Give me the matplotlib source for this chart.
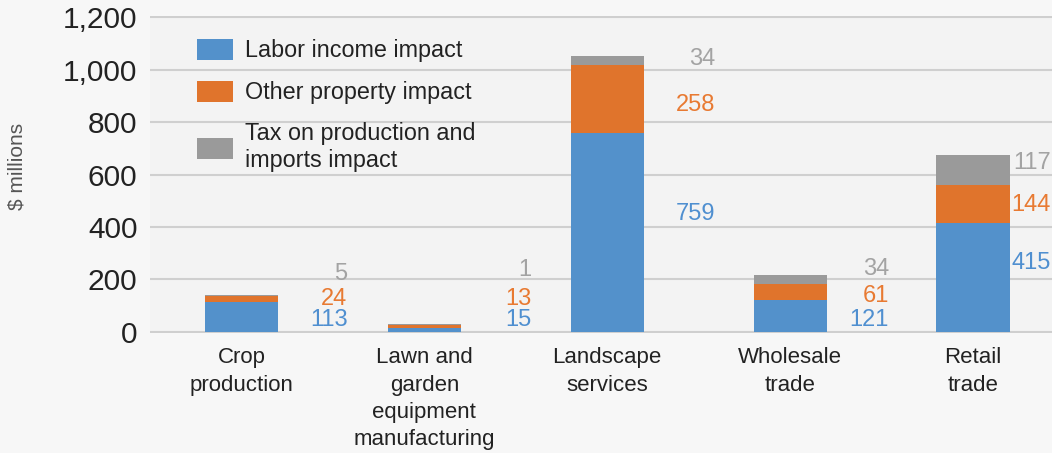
import matplotlib
matplotlib.use("Agg")
import matplotlib.pyplot as plt
from matplotlib.patches import Patch
import numpy as np

# data
categories = ["Crop\nproduction", "Lawn and\ngarden\nequipment\nmanufacturing",
              "Landscape\nservices", "Wholesale\ntrade", "Retail\ntrade"]
labor_income = [113, 15, 759, 121, 415]
other_property = [24, 13, 258, 61, 144]
tax_production = [5, 1, 34, 34, 117]
series_names = ["Labor income impact", "Other property impact",
                "Tax on production and\nimports impact"]
y_ticks = [0, 200, 400, 600, 800, 1000, 1200]

# layout of the value labels (hand placed in the original)
label_dx = [0.58, 0.585, 0.59, 0.54, 0.425]
label_y = [
    [46, 126, 221],
    [46, 126, 236],
    [450, 865, 1040],
    [46, 137, 240],
    [263, 484, 644],
]

bar_colors = ["#5391cb", "#e0742c", "#9a9a9a"]
text_colors = ["#4f8fd0", "#e87a32", "#a3a3a3"]

plt.rcParams['font.family'] = ['Liberation Sans', 'DejaVu Sans']

W, H = 1052, 453
fig = plt.figure(figsize=(W / 100, H / 100), dpi=100, facecolor="#f7f7f7")
ax = fig.add_axes([150 / W, 1 - 333.3 / H, 1 - 150 / W, (333.3 - 15.7) / H])
ax.set_facecolor("#f3f3f3")

x = np.arange(len(categories))
width = 0.4
series = [labor_income, other_property, tax_production]
bottom = np.zeros(len(categories))
for vals, c in zip(series, bar_colors):
    ax.bar(x, vals, width, bottom=bottom, color=c, zorder=3)
    bottom += np.array(vals)

for i in range(len(categories)):
    for j, vals in enumerate(series):
        ax.text(i + label_dx[i], label_y[i][j], str(vals[i]), ha="right", va="center",
                fontsize=17, color=text_colors[j], zorder=4)

ax.set_xlim(-0.5, (W - 241) / 183)
ax.set_ylim(-5, 1205)
ax.set_yticks(y_ticks)
ax.set_yticklabels([f"{v:,}" for v in y_ticks])
ax.yaxis.grid(True, color="#cfcfcf", linewidth=1.5, zorder=0)
ax.set_axisbelow(True)
for s in ax.spines.values():
    s.set_visible(False)
ax.tick_params(axis="y", length=0, pad=9, labelsize=21.5, labelcolor="#222222")
ax.set_xticks(x)
ax.set_xticklabels(categories, fontsize=16, color="#222222", linespacing=1.4)
ax.tick_params(axis="x", length=0, pad=10)

fig.text(17 / W, 1 - 166 / H, "$ millions", rotation=90, ha="center", va="center",
         fontsize=15, color="#555555")

handles = [Patch(facecolor=c, edgecolor="none") for c in bar_colors]
leg = ax.legend(handles, series_names, loc="upper left",
                bbox_to_anchor=(197 / W, 1 - 39 / H), bbox_transform=fig.transFigure,
                frameon=False, fontsize=16.8, handlelength=1.55, handleheight=1.0,
                handletextpad=0.5, labelspacing=0.78, borderpad=0, borderaxespad=0)
for t in leg.get_texts():
    t.set_color("#222222")

fig.savefig("out.png", dpi=100, facecolor=fig.get_facecolor())
